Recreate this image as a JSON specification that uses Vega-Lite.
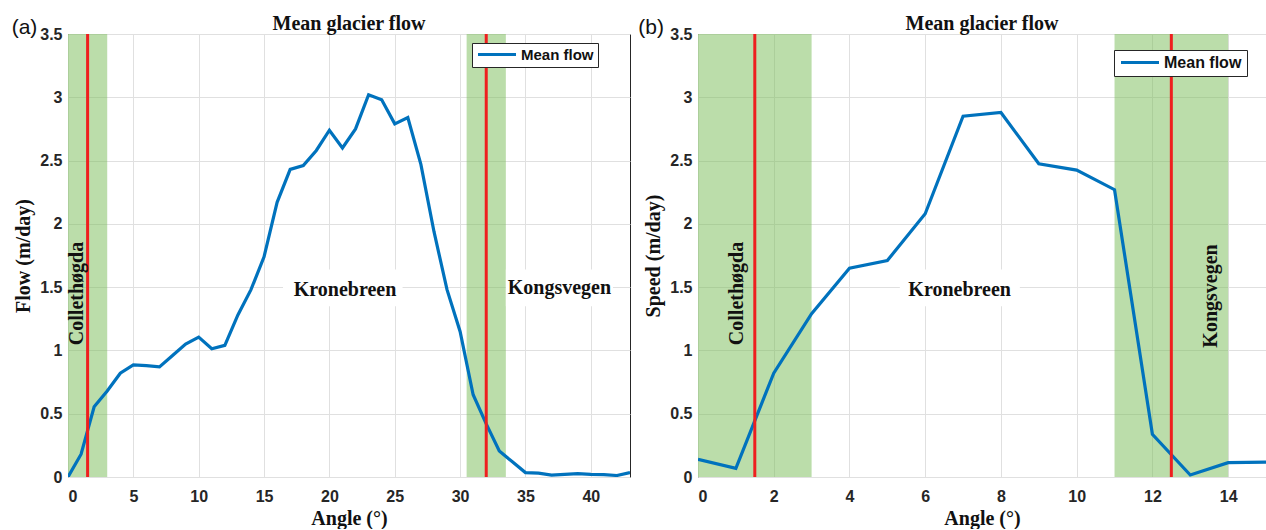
{
  "$schema": "https://vega.github.io/schema/vega-lite/v6.json",
  "padding": {"left": 11, "top": 13, "right": 0, "bottom": 0},
  "bounds": "flush",
  "spacing": 68,
  "background": "white",
  "config": {
    "view": {"stroke": "#262626", "strokeWidth": 1},
    "axis": {
      "grid": true, "gridColor": "#e0e0e0", "gridWidth": 1,
      "ticks": false, "tickSize": 0, "domain": false,
      "labelFont": "Liberation Sans", "labelFontWeight": "bold", "labelFontSize": 16, "labelColor": "#262626",
      "titleFont": "Liberation Serif", "titleFontWeight": "bold", "titleFontSize": 20, "titleColor": "#111111"
    },
    "axisX": {"labelPadding": 11, "titlePadding": 4},
    "axisY": {"labelPadding": 6, "titlePadding": 6},
    "legend": {
      "orient": "none", "strokeColor": "#262626", "fillColor": "white", "padding": 5,
      "symbolType": "stroke", "symbolSize": 1444, "symbolStrokeWidth": 3.2, "labelOffset": 3, "clipHeight": 15,
      "labelFont": "Liberation Sans", "labelFontWeight": "bold", "labelFontSize": 15, "labelColor": "#111111"
    }
  },
  "resolve": {"scale": {"color": "independent"}, "legend": {"color": "independent"}},
  "hconcat": [
    {
      "width": 562, "height": 443,
      "layer": [
        {
          "data": {"values": [{"x1": 0, "x2": 3}, {"x1": 30.5, "x2": 33.5}]},
          "mark": {"type": "rect", "fill": "#77bb55", "opacity": 0.5},
          "encoding": {
            "x": {"field": "x1", "type": "quantitative", "scale": {"domain": [0, 43], "nice": false, "zero": false}, "axis": {"values": [0,5,10,15,20,25,30,35,40], "title": "Angle (°)"}},
            "x2": {"field": "x2"}
          }
        },
        {
          "data": {"values": [{"x1": 16.45, "x2": 25.6, "y1": 1.35, "y2": 1.64}, {"x1": 33.5, "x2": 41.7, "y1": 1.35, "y2": 1.64}]},
          "mark": {"type": "rect", "fill": "white"},
          "encoding": {
            "x": {"field": "x1", "type": "quantitative"}, "x2": {"field": "x2"},
            "y": {"field": "y1", "type": "quantitative"}, "y2": {"field": "y2"}
          }
        },
        {
          "data": {"values": [
            {"angle": 0, "flow": 0}, {"angle": 1, "flow": 0.18}, {"angle": 2, "flow": 0.555}, {"angle": 3, "flow": 0.68},
            {"angle": 4, "flow": 0.82}, {"angle": 5, "flow": 0.885}, {"angle": 6, "flow": 0.88}, {"angle": 7, "flow": 0.87},
            {"angle": 8, "flow": 0.96}, {"angle": 9, "flow": 1.05}, {"angle": 10, "flow": 1.105}, {"angle": 11, "flow": 1.013},
            {"angle": 12, "flow": 1.04}, {"angle": 13, "flow": 1.28}, {"angle": 14, "flow": 1.48}, {"angle": 15, "flow": 1.74},
            {"angle": 16, "flow": 2.17}, {"angle": 17, "flow": 2.43}, {"angle": 18, "flow": 2.46}, {"angle": 19, "flow": 2.58},
            {"angle": 20, "flow": 2.74}, {"angle": 21, "flow": 2.6}, {"angle": 22, "flow": 2.75}, {"angle": 23, "flow": 3.02},
            {"angle": 24, "flow": 2.98}, {"angle": 25, "flow": 2.79}, {"angle": 26, "flow": 2.84}, {"angle": 27, "flow": 2.47},
            {"angle": 28, "flow": 1.94}, {"angle": 29, "flow": 1.48}, {"angle": 30, "flow": 1.15}, {"angle": 31, "flow": 0.65},
            {"angle": 32, "flow": 0.42}, {"angle": 33, "flow": 0.205}, {"angle": 34, "flow": 0.12}, {"angle": 35, "flow": 0.035},
            {"angle": 36, "flow": 0.03}, {"angle": 37, "flow": 0.015}, {"angle": 38, "flow": 0.02}, {"angle": 39, "flow": 0.027},
            {"angle": 40, "flow": 0.02}, {"angle": 41, "flow": 0.018}, {"angle": 42, "flow": 0.012}, {"angle": 43, "flow": 0.035}
          ]},
          "mark": {"type": "line", "strokeWidth": 3.2, "clip": true},
          "encoding": {
            "x": {"field": "angle", "type": "quantitative"},
            "y": {"field": "flow", "type": "quantitative", "scale": {"domain": [0, 3.5], "nice": false}, "axis": {"values": [0,0.5,1,1.5,2,2.5,3,3.5], "format": "~g", "title": "Flow (m/day)"}},
            "color": {"datum": "Mean flow", "type": "nominal", "scale": {"range": ["#0072BD"]}, "legend": {"title": null, "legendX": 404, "legendY": 9, "padding": 4}}
          }
        },
        {
          "data": {"values": [{"pos": 1.5}, {"pos": 32}]},
          "mark": {"type": "rule", "color": "#ee1f1f", "strokeWidth": 3},
          "encoding": {"x": {"field": "pos", "type": "quantitative"}}
        },
        {
          "data": {"values": [{"label": "Kronebreen", "x": 21.2, "y": 1.48}, {"label": "Kongsvegen", "x": 37.6, "y": 1.49}]},
          "mark": {"type": "text", "font": "Liberation Serif", "fontWeight": "bold", "fontSize": 20, "color": "#111111", "baseline": "middle", "align": "center"},
          "encoding": {"x": {"field": "x", "type": "quantitative"}, "y": {"field": "y", "type": "quantitative"}, "text": {"field": "label"}}
        },
        {
          "data": {"values": [{"label": "Collethøgda", "x": 0.68, "y": 1.45}]},
          "mark": {"type": "text", "font": "Liberation Serif", "fontWeight": "bold", "fontSize": 20, "color": "#111111", "baseline": "middle", "align": "center", "angle": 270},
          "encoding": {"x": {"field": "x", "type": "quantitative"}, "y": {"field": "y", "type": "quantitative"}, "text": {"field": "label"}}
        },
        {
          "data": {"values": [{"label": "Mean glacier flow", "x": 21.5, "y": 3.529}]},
          "mark": {"type": "text", "font": "Liberation Serif", "fontWeight": "bold", "fontSize": 20, "color": "#111111", "baseline": "alphabetic", "align": "center"},
          "encoding": {"x": {"field": "x", "type": "quantitative"}, "y": {"field": "y", "type": "quantitative"}, "text": {"field": "label"}}
        },
        {
          "data": {"values": [{"label": "(a)", "x": -4.31, "y": 3.55}]},
          "mark": {"type": "text", "font": "Liberation Sans", "fontSize": 21, "color": "#111111", "baseline": "middle", "align": "left"},
          "encoding": {"x": {"field": "x", "type": "quantitative"}, "y": {"field": "y", "type": "quantitative"}, "text": {"field": "label"}}
        }
      ]
    },
    {
      "width": 568, "height": 443,
      "layer": [
        {
          "data": {"values": [{"x1": 0, "x2": 3}, {"x1": 11, "x2": 14}]},
          "mark": {"type": "rect", "fill": "#77bb55", "opacity": 0.5},
          "encoding": {
            "x": {"field": "x1", "type": "quantitative", "scale": {"domain": [0, 15], "nice": false, "zero": false}, "axis": {"values": [0,2,4,6,8,10,12,14], "title": "Angle (°)"}},
            "x2": {"field": "x2"}
          }
        },
        {
          "data": {"values": [{"x1": 5.33, "x2": 8.5, "y1": 1.35, "y2": 1.64}]},
          "mark": {"type": "rect", "fill": "white"},
          "encoding": {
            "x": {"field": "x1", "type": "quantitative"}, "x2": {"field": "x2"},
            "y": {"field": "y1", "type": "quantitative"}, "y2": {"field": "y2"}
          }
        },
        {
          "data": {"values": [
            {"angle": 0, "speed": 0.14}, {"angle": 1, "speed": 0.069}, {"angle": 2, "speed": 0.82}, {"angle": 3, "speed": 1.29},
            {"angle": 4, "speed": 1.65}, {"angle": 5, "speed": 1.71}, {"angle": 6, "speed": 2.08}, {"angle": 7, "speed": 2.85},
            {"angle": 8, "speed": 2.88}, {"angle": 9, "speed": 2.475}, {"angle": 10, "speed": 2.425}, {"angle": 11, "speed": 2.27},
            {"angle": 12, "speed": 0.337}, {"angle": 13, "speed": 0.016}, {"angle": 14, "speed": 0.113}, {"angle": 15, "speed": 0.118}
          ]},
          "mark": {"type": "line", "strokeWidth": 3.2, "clip": true},
          "encoding": {
            "x": {"field": "angle", "type": "quantitative"},
            "y": {"field": "speed", "type": "quantitative", "scale": {"domain": [0, 3.5], "nice": false}, "axis": {"values": [0,0.5,1,1.5,2,2.5,3,3.5], "format": "~g", "title": "Speed (m/day)"}},
            "color": {"datum": "Mean flow", "type": "nominal", "scale": {"range": ["#0072BD"]}, "legend": {"title": null, "legendX": 416, "legendY": 16, "labelFontSize": 16}}
          }
        },
        {
          "data": {"values": [{"pos": 1.5}, {"pos": 12.5}]},
          "mark": {"type": "rule", "color": "#ee1f1f", "strokeWidth": 3},
          "encoding": {"x": {"field": "pos", "type": "quantitative"}}
        },
        {
          "data": {"values": [{"label": "Kronebreen", "x": 6.91, "y": 1.48}]},
          "mark": {"type": "text", "font": "Liberation Serif", "fontWeight": "bold", "fontSize": 20, "color": "#111111", "baseline": "middle", "align": "center"},
          "encoding": {"x": {"field": "x", "type": "quantitative"}, "y": {"field": "y", "type": "quantitative"}, "text": {"field": "label"}}
        },
        {
          "data": {"values": [{"label": "Collethøgda", "x": 1.04, "y": 1.45}, {"label": "Kongsvegen", "x": 13.54, "y": 1.43}]},
          "mark": {"type": "text", "font": "Liberation Serif", "fontWeight": "bold", "fontSize": 20, "color": "#111111", "baseline": "middle", "align": "center", "angle": 270},
          "encoding": {"x": {"field": "x", "type": "quantitative"}, "y": {"field": "y", "type": "quantitative"}, "text": {"field": "label"}}
        },
        {
          "data": {"values": [{"label": "Mean glacier flow", "x": 7.5, "y": 3.529}]},
          "mark": {"type": "text", "font": "Liberation Serif", "fontWeight": "bold", "fontSize": 20, "color": "#111111", "baseline": "alphabetic", "align": "center"},
          "encoding": {"x": {"field": "x", "type": "quantitative"}, "y": {"field": "y", "type": "quantitative"}, "text": {"field": "label"}}
        },
        {
          "data": {"values": [{"label": "(b)", "x": -1.575, "y": 3.55}]},
          "mark": {"type": "text", "font": "Liberation Sans", "fontSize": 21, "color": "#111111", "baseline": "middle", "align": "left"},
          "encoding": {"x": {"field": "x", "type": "quantitative"}, "y": {"field": "y", "type": "quantitative"}, "text": {"field": "label"}}
        }
      ]
    }
  ]
}
